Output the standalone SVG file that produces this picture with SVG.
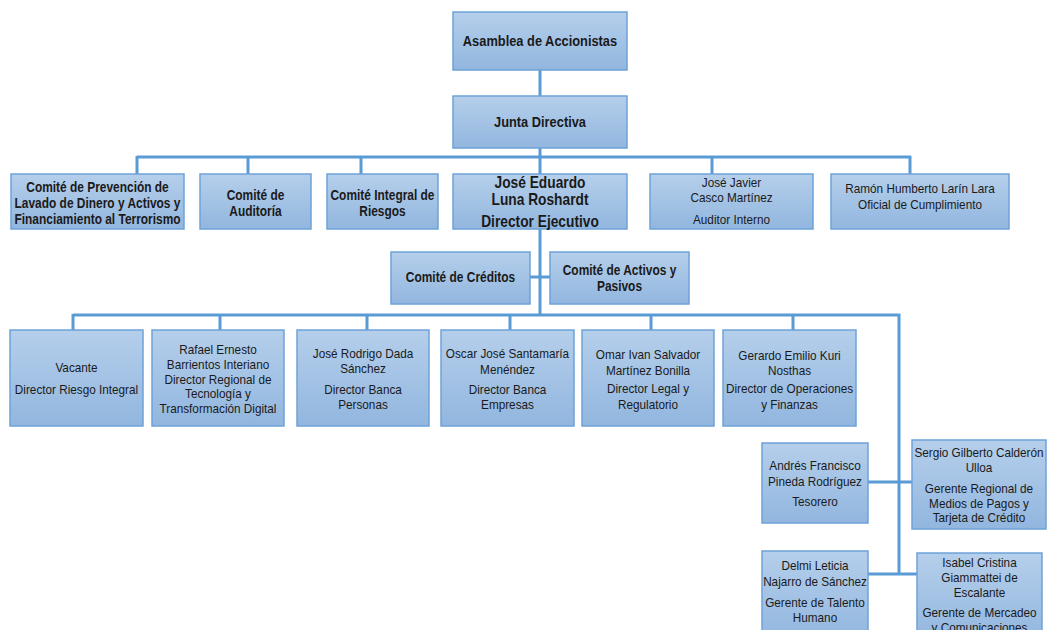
<svg xmlns="http://www.w3.org/2000/svg" width="1047" height="630" viewBox="0 0 1047 630">
<defs>
<linearGradient id="g" x1="0" y1="0" x2="0" y2="1">
<stop offset="0" stop-color="#b5cfeb"/>
<stop offset="1" stop-color="#92b6df"/>
</linearGradient>
<style>
.b{fill:url(#g);stroke:#6da2d8;stroke-width:1.5}
.t{font-family:"Liberation Sans",Arial,sans-serif;font-size:13.5px;fill:#1a1a1a;text-anchor:middle}
.bd{font-weight:bold;font-size:14.2px}
.c{fill:none;stroke:#5b9bd5;stroke-width:3}
</style>
</defs>
<rect width="1047" height="630" fill="#ffffff"/>
<g id="connectors">
<path class="c" d="M540 70V96M540 148V174M137 157H911M137 156V174M248 156V174M361 156V174M712 156V174M910 156V174"/>
<path class="c" d="M540 229V315M530 277H550M73 315H899V574M73 314V330M220 314V330M367 314V330M510 314V330M651 314V330M793 314V330M868 482H912M868 574H917"/>
</g>
<g id="asamblea"><rect class="b" x="453" y="12" width="174" height="58"/><text class="t bd" style="font-size:15.3px" transform="matrix(0.84 0 0 1 540 0)" x="0" y="46.5">Asamblea de Accionistas</text></g>
<g id="junta"><rect class="b" x="453" y="96" width="174" height="52"/><text class="t bd" style="font-size:15.3px" transform="matrix(0.84 0 0 1 540 0)" x="0" y="127.5">Junta Directiva</text></g>
<g id="c-prevencion"><rect class="b" x="11" y="174" width="173" height="55"/><text class="t bd" transform="matrix(0.84 0 0 1 97.5 0)" x="0" y="192"><tspan x="0">Comité de Prevención de</tspan><tspan x="0" y="208">Lavado de Dinero y Activos y</tspan><tspan x="0" y="224">Financiamiento al Terrorismo</tspan></text></g>
<g id="c-auditoria"><rect class="b" x="200" y="174" width="111" height="55"/><text class="t bd" transform="matrix(0.84 0 0 1 255.5 0)" x="0" y="200"><tspan x="0">Comité de</tspan><tspan x="0" y="216">Auditoría</tspan></text></g>
<g id="c-riesgos"><rect class="b" x="327" y="174" width="111" height="55"/><text class="t bd" transform="matrix(0.84 0 0 1 382.5 0)" x="0" y="200"><tspan x="0">Comité Integral de</tspan><tspan x="0" y="216">Riesgos</tspan></text></g>
<g id="director"><rect class="b" x="453" y="174" width="174" height="55"/><text class="t bd" style="font-size:16px" transform="matrix(0.86 0 0 1 540 0)" x="0" y="188"><tspan x="0">José Eduardo</tspan><tspan x="0" y="205">Luna Roshardt</tspan><tspan x="0" y="227">Director Ejecutivo</tspan></text></g>
<g id="auditor"><rect class="b" x="650" y="174" width="163" height="55"/><text class="t" transform="matrix(0.87 0 0 1 731.5 0)" x="0" y="187"><tspan x="0">José Javier</tspan><tspan x="0" y="202">Casco Martínez</tspan><tspan x="0" y="224">Auditor Interno</tspan></text></g>
<g id="oficial"><rect class="b" x="831" y="174" width="178" height="55"/><text class="t" transform="matrix(0.87 0 0 1 920 0)" x="0" y="193"><tspan x="0">Ramón Humberto Larín Lara</tspan><tspan x="0" y="209">Oficial de Cumplimiento</tspan></text></g>
<g id="c-creditos"><rect class="b" x="391" y="252" width="139" height="52"/><text class="t bd" transform="matrix(0.84 0 0 1 460.5 0)" x="0" y="282">Comité de Créditos</text></g>
<g id="c-activos"><rect class="b" x="550" y="252" width="139" height="52"/><text class="t bd" transform="matrix(0.84 0 0 1 619.5 0)" x="0" y="275"><tspan x="0">Comité de Activos y</tspan><tspan x="0" y="291">Pasivos</tspan></text></g>
<g id="vacante"><rect class="b" x="10" y="330" width="133" height="96"/><text class="t" transform="matrix(0.87 0 0 1 76.5 0)" x="0" y="372"><tspan x="0">Vacante</tspan><tspan x="0" y="394">Director Riesgo Integral</tspan></text></g>
<g id="rafael"><rect class="b" x="152" y="330" width="132" height="96"/><text class="t" transform="matrix(0.87 0 0 1 218 0)" x="0" y="354"><tspan x="0">Rafael Ernesto</tspan><tspan x="0" y="369">Barrientos Interiano</tspan><tspan x="0" y="384">Director Regional de</tspan><tspan x="0" y="398.5">Tecnología y</tspan><tspan x="0" y="413">Transformación Digital</tspan></text></g>
<g id="jose-rodrigo"><rect class="b" x="297" y="330" width="132" height="96"/><text class="t" transform="matrix(0.87 0 0 1 363 0)" x="0" y="358"><tspan x="0">José Rodrigo Dada</tspan><tspan x="0" y="373">Sánchez</tspan><tspan x="0" y="394.5">Director Banca</tspan><tspan x="0" y="409">Personas</tspan></text></g>
<g id="oscar"><rect class="b" x="441" y="330" width="133" height="96"/><text class="t" transform="matrix(0.87 0 0 1 507.5 0)" x="0" y="358"><tspan x="0">Oscar José Santamaría</tspan><tspan x="0" y="374">Menéndez</tspan><tspan x="0" y="394">Director Banca</tspan><tspan x="0" y="409">Empresas</tspan></text></g>
<g id="omar"><rect class="b" x="582" y="330" width="132" height="96"/><text class="t" transform="matrix(0.87 0 0 1 648 0)" x="0" y="359"><tspan x="0">Omar Ivan Salvador</tspan><tspan x="0" y="375">Martínez Bonilla</tspan><tspan x="0" y="393">Director Legal y</tspan><tspan x="0" y="409">Regulatorio</tspan></text></g>
<g id="gerardo"><rect class="b" x="723" y="330" width="133" height="96"/><text class="t" transform="matrix(0.87 0 0 1 789.5 0)" x="0" y="360"><tspan x="0">Gerardo Emilio Kuri</tspan><tspan x="0" y="375">Nosthas</tspan><tspan x="0" y="393">Director de Operaciones</tspan><tspan x="0" y="409">y Finanzas</tspan></text></g>
<g id="andres"><rect class="b" x="762" y="443" width="106" height="80"/><text class="t" transform="matrix(0.87 0 0 1 815 0)" x="0" y="470"><tspan x="0">Andrés Francisco</tspan><tspan x="0" y="486">Pineda Rodríguez</tspan><tspan x="0" y="506">Tesorero</tspan></text></g>
<g id="sergio"><rect class="b" x="912" y="440" width="134" height="89"/><text class="t" transform="matrix(0.87 0 0 1 979 0)" x="0" y="457"><tspan x="0">Sergio Gilberto Calderón</tspan><tspan x="0" y="472">Ulloa</tspan><tspan x="0" y="493">Gerente Regional de</tspan><tspan x="0" y="508">Medios de Pagos y</tspan><tspan x="0" y="522.5">Tarjeta de Crédito</tspan></text></g>
<g id="delmi"><rect class="b" x="762" y="551" width="106" height="90"/><text class="t" transform="matrix(0.87 0 0 1 815 0)" x="0" y="570"><tspan x="0">Delmi Leticia</tspan><tspan x="0" y="586">Najarro de Sánchez</tspan><tspan x="0" y="607">Gerente de Talento</tspan><tspan x="0" y="622">Humano</tspan></text></g>
<g id="isabel"><rect class="b" x="917" y="553" width="125" height="90"/><text class="t" transform="matrix(0.87 0 0 1 979.5 0)" x="0" y="567"><tspan x="0">Isabel Cristina</tspan><tspan x="0" y="582">Giammattei de</tspan><tspan x="0" y="597">Escalante</tspan><tspan x="0" y="617.5">Gerente de Mercadeo</tspan><tspan x="0" y="632">y Comunicaciones</tspan></text></g>
</svg>
